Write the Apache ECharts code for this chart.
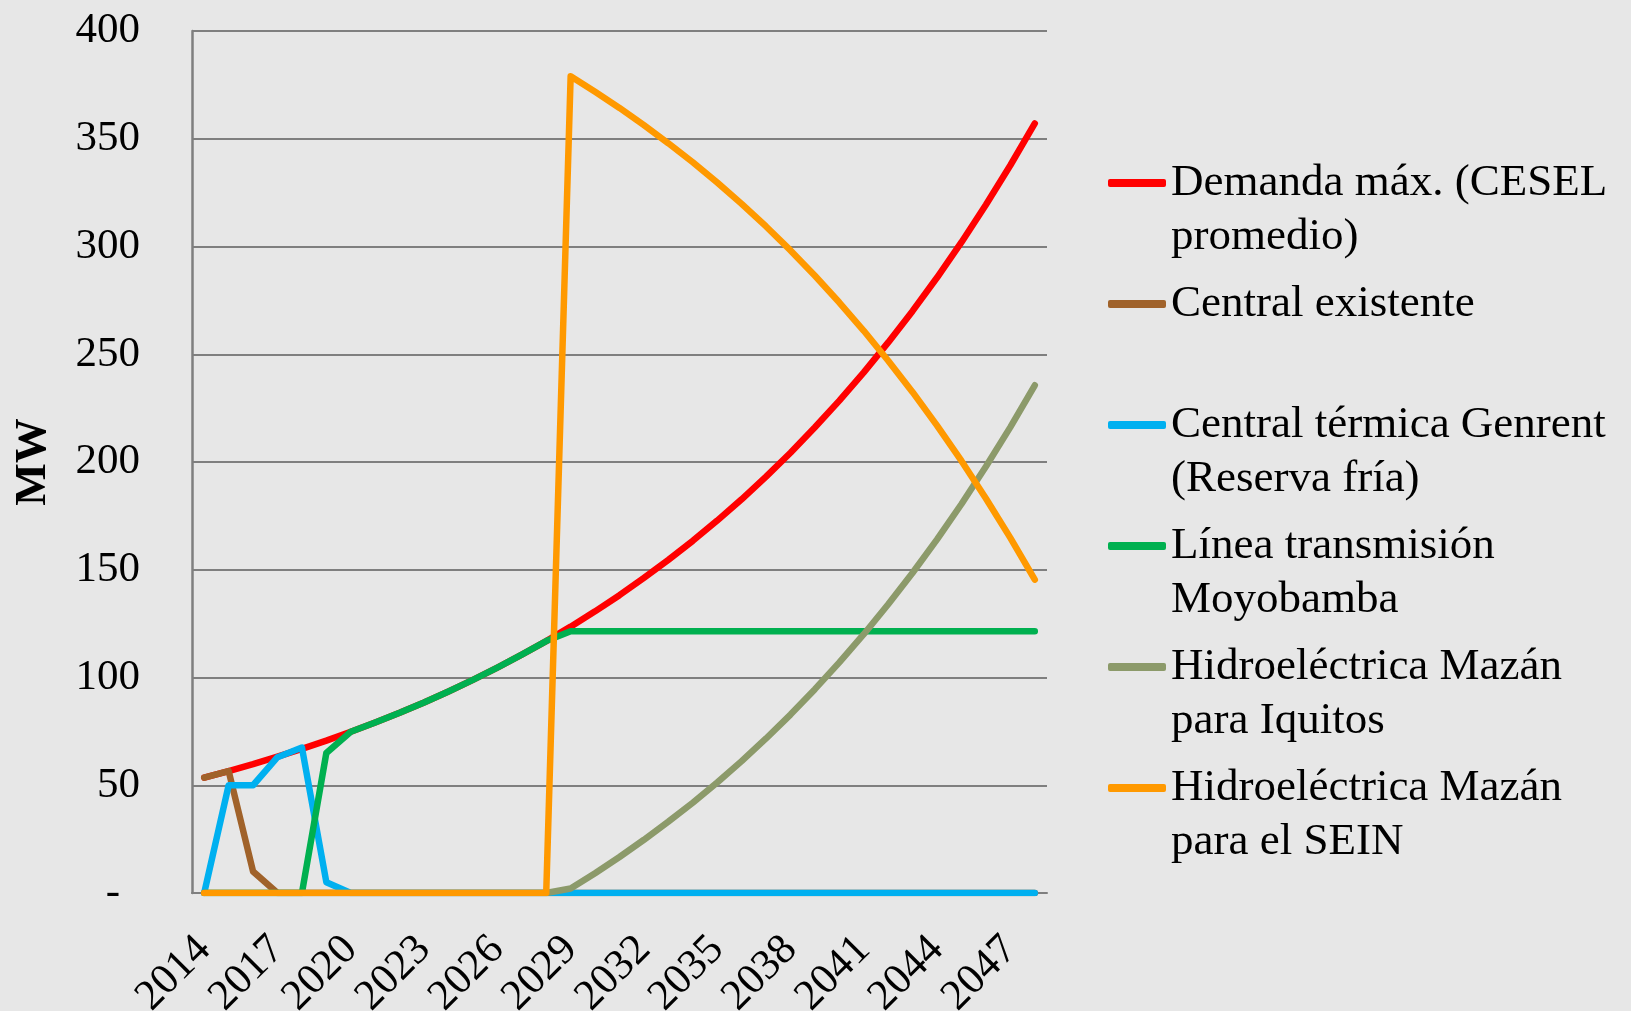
<!DOCTYPE html>
<html>
<head>
<meta charset="utf-8">
<script src="https://cdn.jsdelivr.net/npm/echarts@6/dist/echarts.min.js"></script>
<style>
html,body{margin:0;padding:0;background:#e7e7e7;}
#c{width:1631px;height:1011px;}
</style>
</head>
<body>
<div id="c"></div>
<script>
var years = ['2014','2015','2016','2017','2018','2019','2020','2021','2022','2023','2024','2025','2026','2027','2028','2029','2030','2031','2032','2033','2034','2035','2036','2037','2038','2039','2040','2041','2042','2043','2044','2045','2046','2047','2048'];
var yTicks = [0,50,100,150,200,250,300,350,400];

var demanda = [53.5,56.6,59.8,63.3,66.9,70.7,74.8,79.1,83.6,88.4,93.5,98.9,104.6,110.6,116.9,123.6,130.7,138.2,146.2,154.6,163.4,172.8,182.7,193.2,204.3,216.1,228.5,241.6,255.5,270.1,285.6,302.0,319.4,337.7,357.1];
var existente = [53.5,56.6,10,0,0,0,0,0,0,0,0,0,0,0,0,0,0,0,0,0,0,0,0,0,0,0,0,0,0,0,0,0,0,0,0];
var genrent = [0,50,50,63,67.5,5,0,0,0,0,0,0,0,0,0,0,0,0,0,0,0,0,0,0,0,0,0,0,0,0,0,0,0,0,0];
var linea = [0,0,0,0,0,65,74.8,79.1,83.6,88.4,93.5,98.9,104.6,110.6,116.9,121.5,121.5,121.5,121.5,121.5,121.5,121.5,121.5,121.5,121.5,121.5,121.5,121.5,121.5,121.5,121.5,121.5,121.5,121.5,121.5];
var iquitos = [0,0,0,0,0,0,0,0,0,0,0,0,0,0,0,2.1,9.2,16.7,24.7,33.1,41.9,51.3,61.2,71.7,82.8,94.6,107.0,120.1,134.0,148.6,164.1,180.5,197.9,216.2,235.6];
var sein = [0,0,0,0,0,0,0,0,0,0,0,0,0,0,0,379,371.8,364.3,356.3,347.9,339.1,329.7,319.8,309.3,298.2,286.4,274.0,260.9,247.0,232.4,216.9,200.5,183.1,164.8,145.4];

var seriesNames = ['Demanda máx. (CESEL promedio)','Central existente','Central térmica Genrent (Reserva fría)','Línea transmisión Moyobamba','Hidroeléctrica Mazán para Iquitos','Hidroeléctrica Mazán para el SEIN'];
var legendLabels = {
  'Demanda máx. (CESEL promedio)': 'Demanda máx. (CESEL\npromedio)',
  'Central existente': 'Central existente\n\u00a0',
  'Central térmica Genrent (Reserva fría)': 'Central térmica Genrent\n(Reserva fría)',
  'Línea transmisión Moyobamba': 'Línea transmisión\nMoyobamba',
  'Hidroeléctrica Mazán para Iquitos': 'Hidroeléctrica Mazán\npara Iquitos',
  'Hidroeléctrica Mazán para el SEIN': 'Hidroeléctrica Mazán\npara el SEIN'
};
var colors = ['#ff0000','#a0622a','#00b0f0','#00b050','#8c9a6a','#ff9900'];
var dataSets = [demanda, existente, genrent, linea, iquitos, sein];

var FONT = '"Liberation Serif", "Times New Roman", serif';
var LH = 54;

var chart = echarts.init(document.getElementById('c'), null, {renderer:'canvas'});
chart.setOption({
  backgroundColor: '#e7e7e7',
  animation: false,
  color: colors,
  grid: {left: 192, right: 584, top: 31, bottom: 118, containLabel: false, outerBoundsMode: 'none'},
  legend: {
    orient: 'vertical',
    left: 1108,
    top: 183 - 1.5*LH,
    padding: 0,
    itemWidth: 58,
    itemHeight: 8,
    itemGap: 121 - 3*LH,
    icon: 'roundRect',
    data: seriesNames,
    formatter: function(n){ return '\u00a0\n' + legendLabels[n]; },
    textStyle: {fontFamily: FONT, fontSize: 45, color: '#000', lineHeight: LH}
  },
  xAxis: {
    type: 'category',
    data: years,
    boundaryGap: true,
    axisLine: {show: true, lineStyle: {color: '#7f7f7f', width: 2}},
    axisTick: {show: false},
    axisLabel: {interval: 2, rotate: 45, fontFamily: FONT, fontSize: 43, color: '#000', margin: 50, hideOverlap: false}
  },
  yAxis: {
    type: 'value',
    min: yTicks[0], max: yTicks[yTicks.length-1], interval: 50,
    name: 'MW',
    nameLocation: 'middle',
    nameGap: 136,
    nameTextStyle: {fontFamily: FONT, fontSize: 45, fontWeight: 'bold', color: '#000'},
    axisLine: {show: true, lineStyle: {color: '#7f7f7f', width: 2.5}},
    axisTick: {show: false},
    splitLine: {show: true, lineStyle: {color: '#7f7f7f', width: 2}},
    axisLabel: {
      fontFamily: FONT, fontSize: 43, color: '#000', margin: 52,
      formatter: function(v){ return v === 0 ? '{d|-}' : String(v); },
      rich: {d: {fontFamily: FONT, fontSize: 43, color: '#000', padding: [0,20,0,0]}}
    }
  },
  series: seriesNames.map(function(n, i){
    return {
      name: n, type: 'line', data: dataSets[i],
      showSymbol: false, symbol: 'none', smooth: false,
      lineStyle: {width: 6.5, color: colors[i], cap: 'round', join: 'round'},
      itemStyle: {color: colors[i]},
      z: 2 + i
    };
  })
});
</script>
</body>
</html>
